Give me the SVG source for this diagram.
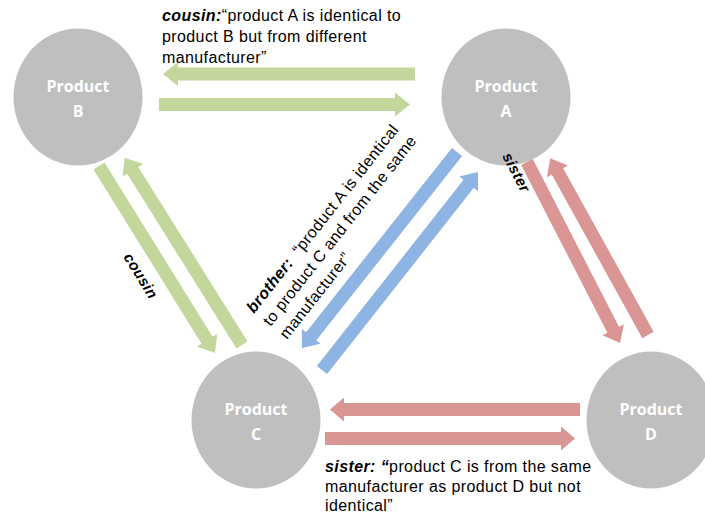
<svg xmlns="http://www.w3.org/2000/svg" width="705" height="517" viewBox="0 0 705 517">
<style>
.node ellipse{fill:#BFBFBF;}
.nl{font-family:"Open Sans","Liberation Sans",sans-serif;font-weight:700;font-size:16px;fill:#FFFFFF;text-anchor:middle;}
.g{fill:#C3D69B;}
.b{fill:#8DB4E2;}
.r{fill:#D99694;}
.t{font-family:"Liberation Sans",Arial,sans-serif;font-size:16px;fill:#000;letter-spacing:0.4px;}
.bi{font-weight:700;font-style:italic;}
</style>
<rect width="705" height="517" fill="#FFFFFF"/>
<g id="nodeB" class="node"><ellipse cx="78" cy="97" rx="64.5" ry="68.5"/><text class="nl" x="78" y="92">Product</text><text class="nl" x="78" y="117">B</text></g>
<g id="nodeA" class="node"><ellipse cx="506" cy="97" rx="64.5" ry="68.5"/><text class="nl" x="506" y="92">Product</text><text class="nl" x="506" y="117">A</text></g>
<g id="nodeC" class="node"><ellipse cx="256" cy="420" rx="64.5" ry="68.5"/><text class="nl" x="256" y="415">Product</text><text class="nl" x="256" y="440">C</text></g>
<g id="nodeD" class="node"><ellipse cx="651" cy="420" rx="64.5" ry="68.5"/><text class="nl" x="651" y="415">Product</text><text class="nl" x="651" y="440">D</text></g>
<g id="connectors">
<polygon class="g" points="415,67.5 178,67.5 178,62 163,74 178,86 178,80.5 415,80.5"/>
<polygon class="g" points="159,98 395,98 395,92.5 410,104.5 395,116.5 395,111 159,111"/>
<polygon class="g" transform="translate(99,166) rotate(58.19)" points="0,-6.5 205,-6.5 205,-12 220,0 205,12 205,6.5 0,6.5"/>
<polygon class="g" transform="translate(242,345) rotate(-122.03)" points="0,-6.5 206,-6.5 206,-12 221,0 206,12 206,6.5 0,6.5"/>
<polygon class="b" transform="translate(457,152) rotate(128.34)" points="0,-6.5 235,-6.5 235,-12 250,0 235,12 235,6.5 0,6.5"/>
<polygon class="b" transform="translate(322,370) rotate(-51.77)" points="0,-6.5 237,-6.5 237,-12 252,0 237,12 237,6.5 0,6.5"/>
<polygon class="r" transform="translate(527,162) rotate(62.8)" points="0,-6.5 188.5,-6.5 188.5,-12 203.5,0 188.5,12 188.5,6.5 0,6.5"/>
<polygon class="r" transform="translate(648,335) rotate(-118.97)" points="0,-6.5 187,-6.5 187,-12 202,0 187,12 187,6.5 0,6.5"/>
<polygon class="r" points="580,403 344,403 344,397.5 330,409.5 344,421.5 344,416 580,416"/>
<polygon class="r" points="325,432 561,432 561,426.5 575,438.5 561,450.5 561,445 325,445"/>
</g>
<g id="labels">
<text class="t" x="162" y="21"><tspan class="bi">cousin:</tspan>“product A is identical to</text>
<text class="t" x="162" y="42">product B but from different</text>
<text class="t" x="162" y="63">manufacturer”</text>
<text class="t" x="325" y="472"><tspan class="bi">sister: “</tspan>product C is from the same</text>
<text class="t" x="325" y="491.5">manufacturer as product D but not</text>
<text class="t" x="325" y="511">identical”</text>
<g transform="translate(254,314) rotate(-51.7)">
<text class="t" x="0" y="0" xml:space="preserve"><tspan class="bi">brother:</tspan>  “product A is identical</text>
<text class="t" x="0" y="21">to product C and from the same</text>
<text class="t" x="0" y="42">manufacturer”</text>
</g>
<text class="t bi" transform="translate(502,156) rotate(62.5)" style="font-size:15px">sister</text>
<text class="t bi" transform="translate(123,257) rotate(58)" style="font-size:15px">cousin</text>
</g>
</svg>
